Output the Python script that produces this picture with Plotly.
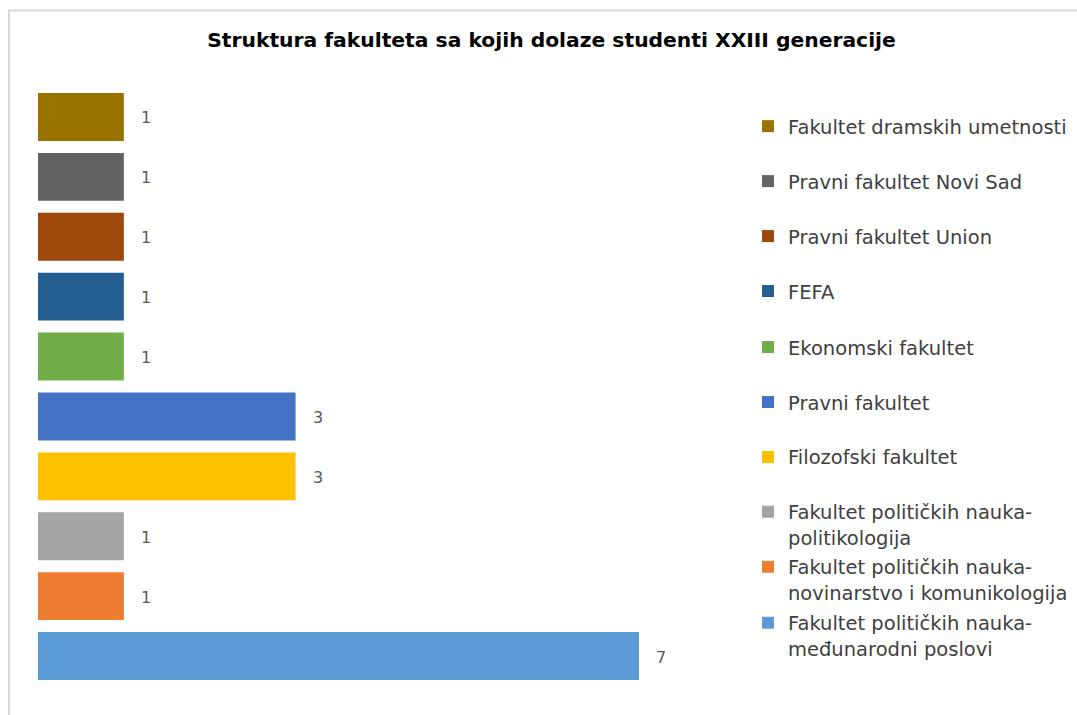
import plotly.graph_objects as go

# Data (top to bottom as in the reference)
categories = [
    "Fakultet dramskih umetnosti",
    "Pravni fakultet Novi Sad",
    "Pravni fakultet Union",
    "FEFA",
    "Ekonomski fakultet",
    "Pravni fakultet",
    "Filozofski fakultet",
    "Fakultet političkih nauka-politikologija",
    "Fakultet političkih nauka-novinarstvo i komunikologija",
    "Fakultet političkih nauka-međunarodni poslovi",
]
legend_labels = [
    "Fakultet dramskih umetnosti",
    "Pravni fakultet Novi Sad",
    "Pravni fakultet Union",
    "FEFA",
    "Ekonomski fakultet",
    "Pravni fakultet",
    "Filozofski fakultet",
    "Fakultet političkih nauka-<br>politikologija",
    "Fakultet političkih nauka-<br>novinarstvo i komunikologija",
    "Fakultet političkih nauka-<br>međunarodni poslovi",
]
values = [1, 1, 1, 1, 1, 3, 3, 1, 1, 7]
colors = ["#997300", "#636363", "#9E480E", "#255E91", "#70AD47",
          "#4472C4", "#FFC000", "#A5A5A5", "#ED7D31", "#5B9BD5"]
title_text = "Struktura fakulteta sa kojih dolaze studenti XXIII generacije"

W, H = 1077, 715
PL, PR = 38, 740           # plot area left/right in px
PT, PB = 86.5, 686         # plot area top/bottom in px
XMAX = (PR - PL) / ((639 - 38) / 7)

FONT = "DejaVu Sans"

fig = go.Figure()
legend_first_line_px = [127, 182, 237, 292, 348, 403, 458, 513, 568, 624]

def py_to_paper(py):
    return (PB - py) / (PB - PT)

def px_to_paper(px):
    return (px - PL) / (PR - PL)

layout_legends = {}
for i, (cat, lab, v, c) in enumerate(zip(categories, legend_labels, values, colors)):
    lname = "legend" if i == 0 else f"legend{i+1}"
    fig.add_trace(go.Bar(
        x=[v], y=[cat], orientation="h", name=lab,
        marker=dict(color=c, line=dict(width=0)),
        width=0.8, legend=lname, showlegend=True,
        hoverinfo="x+name",
    ))
    fig.add_annotation(
        x=v, y=cat, xref="x", yref="y", text=str(v), showarrow=False,
        xanchor="left", xshift=15, yshift=-1,
        font=dict(family=FONT, size=16, color="#595959"),
    )
    layout_legends[lname] = dict(
        x=px_to_paper(748), y=py_to_paper(legend_first_line_px[i] - 20.5),
        xanchor="left", yanchor="top", valign="top",
        bgcolor="rgba(0,0,0,0)", borderwidth=0,
        font=dict(family=FONT, size=19.5, color="#404040"),
    )

fig.update_layout(
    width=W, height=H,
    margin=dict(l=PL, r=W - PR, t=PT, b=H - PB, pad=0, autoexpand=False),
    paper_bgcolor="white", plot_bgcolor="white",
    barmode="overlay",
    title=dict(text=title_text, x=(551.5) / W, xanchor="center",
               y=1 - 40 / H, yanchor="middle",
               font=dict(family=FONT, size=20.3, color="#000000", weight="bold")),
    xaxis=dict(range=[0, XMAX], visible=False, fixedrange=True),
    yaxis=dict(categoryorder="array", categoryarray=categories,
               autorange="reversed", visible=False, fixedrange=True),
    **layout_legends,
)

# Chart border (light gray frame, cropped on right and bottom)
fig.add_shape(type="rect", xref="paper", yref="paper",
              x0=px_to_paper(9), x1=px_to_paper(W + 20),
              y0=py_to_paper(H + 20), y1=py_to_paper(10),
              line=dict(color="#D9D9D9", width=2), fillcolor="rgba(0,0,0,0)",
              layer="below")

fig.write_html("out.html")
